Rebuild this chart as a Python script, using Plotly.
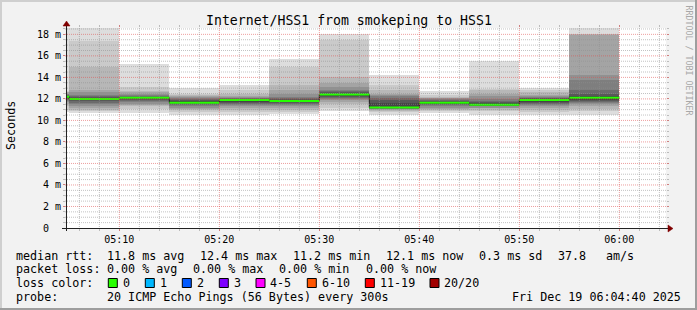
import plotly.graph_objects as go
from datetime import datetime, timedelta

# ---------------- data ----------------
day = "2025-12-19"
bin_starts = ["05:00", "05:05", "05:10", "05:15", "05:20", "05:25",
              "05:30", "05:35", "05:40", "05:45", "05:50", "05:55"]
bin_seconds = 300
median_ms = [12.2, 12.0, 12.1, 11.65, 11.9, 11.8, 12.4, 11.2, 11.65, 11.45, 11.9, 12.1]

# sorted 20 ping round-trip times (ms) for each 5-minute bin
pings_ms = [
    [10.8, 11.0, 11.3, 11.5, 11.7, 11.8, 11.9, 12.0, 12.1, 12.2, 12.2, 12.3, 12.3, 12.4, 12.5, 12.5, 12.6, 12.6, 12.7, 18.6],
    [10.7, 10.9, 11.0, 11.2, 11.3, 11.5, 11.6, 11.8, 11.9, 12.0, 12.0, 12.1, 12.2, 12.3, 12.4, 12.6, 12.8, 15.0, 17.4, 18.6],
    [10.7, 11.1, 11.3, 11.4, 11.5, 11.7, 11.8, 11.9, 12.0, 12.1, 12.1, 12.2, 12.2, 12.3, 12.4, 12.5, 12.6, 12.7, 13.1, 15.2],
    [10.5, 10.8, 10.95, 11.1, 11.2, 11.3, 11.4, 11.5, 11.6, 11.65, 11.7, 11.8, 11.9, 12.0, 12.1, 12.2, 12.3, 12.35, 12.5, 13.05],
    [10.5, 10.8, 11.0, 11.2, 11.3, 11.4, 11.5, 11.6, 11.7, 11.85, 11.9, 11.95, 12.0, 12.05, 12.1, 12.2, 12.3, 12.5, 12.8, 13.3],
    [10.6, 10.8, 11.0, 11.2, 11.3, 11.4, 11.5, 11.6, 11.7, 11.8, 11.8, 11.9, 12.0, 12.1, 12.2, 12.5, 12.8, 13.3, 15.0, 15.7],
    [10.9, 11.2, 11.5, 11.7, 11.9, 12.0, 12.1, 12.2, 12.3, 12.4, 12.4, 12.5, 12.6, 12.7, 12.8, 13.1, 13.5, 14.05, 17.5, 18.0],
    [10.5, 10.8, 10.9, 11.0, 11.05, 11.1, 11.1, 11.15, 11.2, 11.2, 11.2, 11.6, 11.9, 12.1, 12.3, 12.4, 12.5, 12.8, 13.3, 14.2],
    [10.7, 10.9, 11.0, 11.1, 11.2, 11.3, 11.4, 11.5, 11.55, 11.6, 11.7, 11.75, 11.8, 11.9, 12.0, 12.05, 12.1, 12.2, 12.4, 12.7],
    [10.5, 10.85, 11.0, 11.15, 11.2, 11.3, 11.35, 11.4, 11.45, 11.45, 11.5, 11.6, 11.7, 11.8, 12.0, 12.3, 12.5, 12.8, 12.9, 15.5],
    [10.5, 10.8, 11.0, 11.2, 11.3, 11.4, 11.5, 11.6, 11.7, 11.85, 11.95, 12.0, 12.05, 12.1, 12.2, 12.3, 12.4, 12.6, 12.8, 13.0],
    [10.5, 10.9, 11.1, 11.3, 11.5, 11.6, 11.7, 11.8, 11.9, 12.05, 12.15, 12.3, 12.5, 12.8, 13.75, 14.2, 17.95, 18.0, 18.0, 18.55],
]

x_start = "2025-12-19 05:04:40"
x_end = "2025-12-19 06:04:40"
y_max = 18.59
y_tick_vals = [0, 2, 4, 6, 8, 10, 12, 14, 16, 18]
y_tick_text = ["0\u00a0\u00a0", "2 m", "4 m", "6 m", "8 m", "10 m", "12 m", "14 m", "16 m", "18 m"]
x_tick_text = ["05:10", "05:20", "05:30", "05:40", "05:50", "06:00"]

title = "Internet/HSS1 from smokeping to HSS1"
y_title = "Seconds"
watermark = "RRDTOOL / TOBI OETIKER"

rtt_items = ["median rtt:", "11.8 ms avg", "12.4 ms max", "11.2 ms min", "12.1 ms now", "0.3 ms sd", "37.8", "am/s"]
loss_items = ["packet loss:", "0.00 % avg", "0.00 % max", "0.00 % min", "0.00 % now"]
loss_labels = ["0", "1", "2", "3", "4-5", "6-10", "11-19", "20/20"]
loss_colors = ["#26ff00", "#00b8ff", "#0059ff", "#7e00ff", "#ff00ff", "#ff5500", "#ff0000", "#a10000"]
probe_items = ["probe:", "20 ICMP Echo Pings (56 Bytes) every 300s"]
stamp = "Fri Dec 19 06:04:40 2025"

# ---------------- layout helpers (pixel -> paper) ----------------
W, H = 697, 310
L, R, T, B = 66, 666, 28, 228
def px(x):
    return (x - L) / (R - L)
def py(y):
    return (B - y) / (B - T)

FONT = "DejaVu Sans Mono"
starts = [datetime.fromisoformat(f"{day} {s}:00") for s in bin_starts]
step = timedelta(seconds=bin_seconds)
centers = [s + step / 2 for s in starts]

fig = go.Figure()

# smoke: pairs of sorted pings, outer lightest -> inner darkest
n = 20
half = n // 2
for i in range(1, half + 1):
    g = int(190 / half * (half - i)) + 50
    col = f"rgb({g},{g},{g})"
    lo = [p[i - 1] for p in pings_ms]
    hi = [p[n - i] for p in pings_ms]
    fig.add_trace(go.Bar(
        x=centers, base=lo, y=[h - l for h, l in zip(hi, lo)],
        width=bin_seconds * 1000, marker=dict(color=col, line=dict(width=0)),
        hoverinfo="skip"))

# median dark step line
fig.add_trace(go.Scatter(
    x=starts + [starts[-1] + step], y=median_ms + [median_ms[-1]],
    mode="lines", line=dict(color="#202020", width=1, shape="hv"), hoverinfo="skip"))

# green median (loss 0) segments
gx, gy = [], []
for s, m in zip(starts, median_ms):
    gx += [s, s + step, None]
    gy += [m, m, None]
fig.add_trace(go.Scatter(x=gx, y=gy, mode="lines",
                         line=dict(color=loss_colors[0], width=2), hoverinfo="skip"))

# ---------------- grid as shapes (rrdtool draws grid on top) ----------------
shapes = []
minor_col = "rgba(143,143,143,0.55)"
major_col = "rgba(222,79,79,0.55)"
dash = "1px,1px"
k = 1
while k * 0.5 < y_max:
    v = k * 0.5
    is_major = (abs(v / 2 - round(v / 2)) < 1e-9)
    shapes.append(dict(type="line", xref="paper", yref="y", x0=px(L - 1), x1=px(R + 1), y0=v, y1=v,
                       line=dict(color=major_col if is_major else minor_col, width=1, dash=dash),
                       layer="above"))
    k += 1
t0 = datetime.fromisoformat(f"{day} 05:00:00")
xs = datetime.fromisoformat(x_start)
xe = datetime.fromisoformat(x_end)
t = t0
while t <= xe:
    if t > xs:
        is_major = (t.minute % 10 == 0)
        shapes.append(dict(type="line", xref="x", yref="paper", x0=t, x1=t, y0=py(B + 1), y1=py(T - 1),
                           line=dict(color=major_col if is_major else minor_col, width=1, dash=dash),
                           layer="above"))
    t += timedelta(minutes=2) if False else timedelta(minutes=1)
    # keep only even minutes
    while t.minute % 2 != 0:
        t += timedelta(minutes=1)

# axes lines and arrows
axis_col = "#212121"
arrow_col = "#800000"
shapes.append(dict(type="line", xref="paper", yref="paper", x0=px(62), x1=px(669), y0=py(228.5), y1=py(228.5),
                   line=dict(color=axis_col, width=1), layer="above"))
shapes.append(dict(type="line", xref="paper", yref="paper", x0=px(66.5), x1=px(66.5), y0=py(231), y1=py(24),
                   line=dict(color=axis_col, width=1), layer="above"))
shapes.append(dict(type="path", xref="paper", yref="paper",
                   path=f"M {px(668)} {py(225)} L {px(673)} {py(228.5)} L {px(668)} {py(232)} Z",
                   fillcolor=arrow_col, line=dict(color=arrow_col, width=0.5), layer="above"))
shapes.append(dict(type="path", xref="paper", yref="paper",
                   path=f"M {px(63)} {py(26)} L {px(66.5)} {py(21)} L {px(70)} {py(26)} Z",
                   fillcolor=arrow_col, line=dict(color=arrow_col, width=0.5), layer="above"))

# 3D border
shapes.append(dict(type="rect", xref="paper", yref="paper", x0=px(0), x1=px(W), y0=py(0), y1=py(2),
                   fillcolor="#cfcfcf", line=dict(width=0)))
shapes.append(dict(type="rect", xref="paper", yref="paper", x0=px(0), x1=px(2), y0=py(0), y1=py(H),
                   fillcolor="#cfcfcf", line=dict(width=0)))
shapes.append(dict(type="rect", xref="paper", yref="paper", x0=px(0), x1=px(W), y0=py(H - 2), y1=py(H),
                   fillcolor="#9e9e9e", line=dict(width=0)))
shapes.append(dict(type="rect", xref="paper", yref="paper", x0=px(W - 2), x1=px(W), y0=py(0), y1=py(H),
                   fillcolor="#9e9e9e", line=dict(width=0)))

# ---------------- annotations ----------------
ann = []
def text(s, x, y, size=11.7, anchor="left", angle=0, color="#000000"):
    ann.append(dict(text=s, x=px(x), y=py(y), xref="paper", yref="paper", showarrow=False,
                    xanchor=anchor, yanchor="middle", textangle=angle,
                    font=dict(family=FONT, size=size, color=color),
                    borderpad=0, borderwidth=0))

text(title, 348.5, 20.5, size=13.2, anchor="center")
text(y_title, 11, 126, size=11.7, anchor="center", angle=-90)
text(watermark, 688.5, 60, size=8.3, anchor="center", angle=90, color="#a8a8a8")

line_y = [255.5, 269.3, 283.1, 296.9]
rtt_x = [15.5, 106.8, 199.5, 292.8, 386.2, 478.8, 557.8, 606.2]
for s, x in zip(rtt_items, rtt_x):
    text(s, x, line_y[0])
loss_x = [15.5, 106.8, 192.8, 278.8, 366.2]
for s, x in zip(loss_items, loss_x):
    text(s, x, line_y[1])
text("loss color:", 15.5, line_y[2])
sq_x = [108.3, 145.3, 182.3, 219.3, 256.0, 307.3, 365.3, 430.0]
for lab, col, x in zip(loss_labels, loss_colors, sq_x):
    shapes.append(dict(type="rect", xref="paper", yref="paper", x0=px(x), x1=px(x + 9),
                       y0=py(278.5), y1=py(287.5), fillcolor=col,
                       line=dict(color="#000000", width=1), layer="above"))
    text(lab, x + 14.3, line_y[2])
text(probe_items[0], 15.5, line_y[3])
text(probe_items[1], 106.8, line_y[3])
text(stamp, 681, line_y[3], anchor="right")

# ---------------- layout ----------------
fig.update_layout(
    width=W, height=H, autosize=False,
    margin=dict(l=L, r=W - R, t=T, b=H - B, pad=0),
    paper_bgcolor="#f2f2f2", plot_bgcolor="#ffffff",
    showlegend=False, barmode="overlay", bargap=0,
    font=dict(family=FONT, color="#000000"),
    shapes=shapes, annotations=ann,
    xaxis=dict(type="date", range=[x_start, x_end], showgrid=False, zeroline=False, showline=False,
               tickmode="array", tickvals=[f"{day} {s}:00" for s in x_tick_text], ticktext=x_tick_text,
               ticks="outside", ticklen=2, tickwidth=1, tickcolor=major_col, mirror="ticks",
               tickfont=dict(family=FONT, size=10, color="#000000"),
               minor=dict(dtick=120000, tick0=f"{day} 05:00:00", ticks="outside", ticklen=2,
                          tickcolor=minor_col, showgrid=False),
               fixedrange=True),
    yaxis=dict(range=[0, y_max], showgrid=False, zeroline=False, showline=False,
               tickmode="array", tickvals=y_tick_vals, ticktext=y_tick_text,
               ticks="outside", ticklen=2, tickwidth=1, tickcolor=major_col, mirror="ticks",
               tickfont=dict(family=FONT, size=10, color="#000000"),
               minor=dict(dtick=0.5, tick0=0, ticks="outside", ticklen=2, tickcolor=minor_col, showgrid=False),
               fixedrange=True),
)

fig.write_html("out.html")
